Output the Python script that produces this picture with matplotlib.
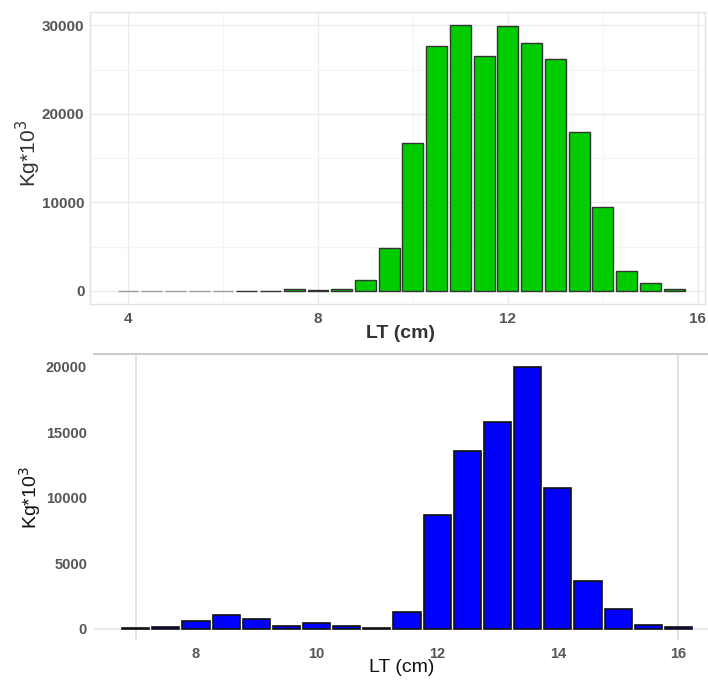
import matplotlib
matplotlib.use("Agg")
import matplotlib.pyplot as plt
import numpy as np

plt.rcParams['font.family'] = ['Liberation Sans', 'DejaVu Sans']

# Upper panel: length classes (cm) and biomass (Kg*10^3)
lt_top = [4.0, 4.5, 5.0, 5.5, 6.0, 6.5, 7.0, 7.5, 8.0, 8.5, 9.0, 9.5,
          10.0, 10.5, 11.0, 11.5, 12.0, 12.5, 13.0, 13.5, 14.0, 14.5, 15.0, 15.5]
kg_top = [0, 0, 0, 0, 0, 30, 50, 200, 100, 200, 1250, 4800,
          16750, 27700, 30050, 26500, 29900, 28050, 26200, 17900, 9450, 2200, 950, 200]

# Lower panel
lt_bot = [7.0, 7.5, 8.0, 8.5, 9.0, 9.5, 10.0, 10.5, 11.0, 11.5, 12.0, 12.5,
          13.0, 13.5, 14.0, 14.5, 15.0, 15.5, 16.0]
kg_bot = [20, 100, 570, 1050, 740, 230, 410, 200, 30, 1300, 8680, 13600,
          15800, 20000, 10750, 3650, 1500, 280, 130]

top_xticks = [4, 8, 12, 16]
top_yticks = [0, 10000, 20000, 30000]
bot_xticks = [8, 10, 12, 14, 16]
bot_yticks = [0, 5000, 10000, 15000, 20000]

W, H = 708, 681
fig = plt.figure(figsize=(W / 100, H / 100), dpi=100)

tick_color = '#555555'

# ---------- upper panel ----------
ax1 = fig.add_axes([90 / W, 1 - 304 / H, (705 - 90) / W, (304 - 12) / H])
edge_top = ['#a0a0a0' if v == 0 else '#333333' for v in kg_top]
ax1.bar(lt_top, kg_top, width=0.44, color='#00cc00', edgecolor=edge_top,
        linewidth=1.0, zorder=3)
ax1.set_xlim(3.2, 16.15)
ax1.set_ylim(-1470, 31500)
ax1.set_xticks(top_xticks)
ax1.set_yticks(top_yticks)
ax1.set_xticks([6, 10, 14], minor=True)
ax1.set_yticks([5000, 15000, 25000], minor=True)
ax1.grid(True, which='major', color='#ebebeb', linewidth=1.0, zorder=0)
ax1.grid(True, which='minor', color='#f4f4f4', linewidth=0.8, zorder=0)
for s in ax1.spines.values():
    s.set_color('#e3e3e3')
    s.set_linewidth(1.0)
ax1.tick_params(axis='both', which='both', length=0)
ax1.tick_params(axis='x', pad=6)
ax1.tick_params(axis='y', pad=4)
for lab in ax1.get_xticklabels() + ax1.get_yticklabels():
    lab.set_fontsize(11)
    lab.set_fontweight('bold')
    lab.set_color(tick_color)
fig.text(401 / W, 1 - 334 / H, 'LT (cm)', ha='center', va='center',
         fontsize=14, fontweight='bold', color='#333333')
fig.text(28 / W, 1 - 153 / H, r'Kg*10$^3$', ha='center', va='center',
         rotation=90, fontsize=15, color='#333333')

# ---------- lower panel ----------
ax2 = fig.add_axes([94 / W, 1 - 640 / H, (708 - 94) / W, (640 - 354) / H])
ax2.bar(lt_bot, kg_bot, width=0.45, color='#0000ff', edgecolor='#111111',
        linewidth=1.2, zorder=3)
ax2.set_xlim(6.31, 16.49)
ax2.set_ylim(-860, 20970)
ax2.set_xticks(bot_xticks)
ax2.set_yticks(bot_yticks)
ax2.axhline(0, color='#e6e6e6', linewidth=1.2, zorder=1)
for xv in (7, 16):
    ax2.axvline(xv, color='#dddddd', linewidth=1.2, zorder=1)
for name, s in ax2.spines.items():
    if name == 'top':
        s.set_color('#cccccc')
        s.set_linewidth(1.5)
    else:
        s.set_visible(False)
ax2.tick_params(axis='both', which='both', length=0)
ax2.tick_params(axis='x', pad=5)
ax2.tick_params(axis='y', pad=5)
for lab in ax2.get_xticklabels() + ax2.get_yticklabels():
    lab.set_fontsize(10.5)
    lab.set_fontweight('bold')
    lab.set_color(tick_color)
fig.text(402 / W, 1 - 667 / H, 'LT (cm)', ha='center', va='center',
         fontsize=14, color='#111111')
fig.text(30 / W, 1 - 498 / H, r'Kg*10$^3$', ha='center', va='center',
         rotation=90, fontsize=14, color='#111111')

fig.savefig('out.png', dpi=100)
